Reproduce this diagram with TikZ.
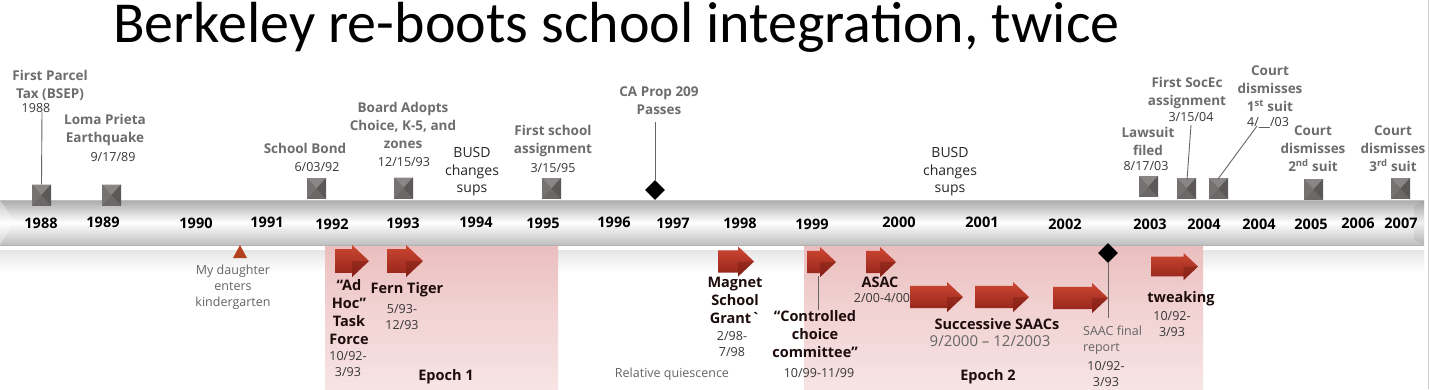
\documentclass[tikz,border=0pt]{standalone}
\usepackage{fontspec}
\setmainfont{Open Sans}
\newfontfamily\titlefont{Carlito}
\usetikzlibrary{shapes.geometric,calc}
\definecolor{lblgray}{RGB}{110,108,108}
\definecolor{dategray}{RGB}{55,55,55}
\definecolor{notegray}{RGB}{100,100,100}
\definecolor{darklbl}{RGB}{30,12,12}
\definecolor{mk}{RGB}{108,104,104}
\definecolor{mktop}{RGB}{138,134,134}
\definecolor{mkleft}{RGB}{118,114,114}
\definecolor{mkright}{RGB}{92,88,88}
\definecolor{arrtop}{RGB}{205,70,50}
\definecolor{arrbot}{RGB}{145,35,25}
\definecolor{arrdark}{RGB}{120,28,18}
\definecolor{pinkedge}{RGB}{214,150,150}
\definecolor{pinktop}{RGB}{230,178,178}
\definecolor{pinkmid}{RGB}{241,208,208}
\definecolor{pinkbot}{RGB}{253,245,245}
\definecolor{bartop}{RGB}{170,170,170}
\definecolor{barbot}{RGB}{190,190,190}
\definecolor{trired}{RGB}{180,64,30}
\pgfdeclareverticalshading{pinkshade}{100bp}{color(0bp)=(pinkbot); color(55bp)=(pinkmid); color(88bp)=(pinktop); color(100bp)=(pinkedge)}
\newcommand\redarrow[4]{% xleft, ycenter, length, height
  \shade[top color=arrtop, bottom color=arrbot]
    ({#1},{#2-0.37*#4}) -- ({#1+#3-0.53*#4},{#2-0.37*#4}) -- ({#1+#3-0.53*#4},{#2-0.5*#4})
    -- ({#1+#3},{#2}) -- ({#1+#3-0.53*#4},{#2+0.5*#4}) -- ({#1+#3-0.53*#4},{#2+0.37*#4})
    -- ({#1},{#2+0.37*#4}) -- cycle;
  \fill[arrdark, opacity=0.45] ({#1+#3-0.53*#4},{#2}) -- ({#1+#3},{#2}) -- ({#1+#3-0.53*#4},{#2+0.5*#4}) -- cycle;
}
\begin{document}
\begin{tikzpicture}[x=1pt,y=-1pt,
  lbl/.style={font=\fontsize{13.5}{18}\selectfont\bfseries, text=lblgray, align=center, inner sep=0},
  datetxt/.style={font=\fontsize{12.5}{16}\selectfont, text=dategray, align=center, inner sep=0},
  yr/.style={font=\fontsize{14.5}{17}\selectfont\bfseries, text=black, inner sep=0},
  reg/.style={font=\fontsize{14}{17.5}\selectfont, text=black!85, align=center, inner sep=0},
  blbl/.style={font=\fontsize{14.5}{18}\selectfont\bfseries, text=darklbl, align=center, inner sep=0},
  gnote/.style={font=\fontsize{12.5}{16}\selectfont, text=notegray, align=center, inner sep=0},
  marker/.style={minimum width=19pt, minimum height=21pt, inner sep=0, fill=mk,
    path picture={
      \fill[mktop] (path picture bounding box.north west) -- (path picture bounding box.north east) -- (path picture bounding box.center) -- cycle;
      \fill[mkright] (path picture bounding box.north east) -- (path picture bounding box.south east) -- (path picture bounding box.center) -- cycle;
      \fill[mkleft] (path picture bounding box.north west) -- (path picture bounding box.south west) -- (path picture bounding box.center) -- cycle;
    }},
  dia/.style={diamond, fill=black, minimum width=20pt, minimum height=20pt, inner sep=0},
  pole/.style={draw=gray!80!black, line width=0.9pt},
  region/.style={shading=pinkshade}
]
\useasboundingbox (0,0) rectangle (1429,389);
\fill[white] (0,0) rectangle (1429,389);

% shadow strip below bar
\shade[top color=black!10, bottom color=white] (0,250) rectangle (1424,272);

% epochs
\shade[region] (325,245) rectangle (558,389);
\shade[region] (804,245) rectangle (1203,389);

% bar
\shade[top color=bartop, bottom color=barbot, middle color=white] (0,200) rectangle (1424,245);
\fill[white, opacity=0.35] (0,200) -- (15,222) -- (0,245) -- cycle;
\fill[black, opacity=0.06] (1424,200) -- (1414,206) -- (1414,240) -- (1424,245) -- cycle;
\draw[black!30, line width=0.8pt] (0,245) -- (1424,245);
\draw[black!25, line width=0.6pt] (0,200.3) -- (1424,200.3);

% slide edge
\draw[black!20, line width=0.8pt] (1428,0) -- (1428,389);

% title
\node[anchor=base west, inner sep=0, font=\titlefont\fontsize{58}{64}\selectfont] (title) at (113,42) {Berkeley re-boots school integration, twice};

% year labels
\node[yr] (y1988) at (41,223) {1988};
\node[yr] (y1989) at (103,222) {1989};
\node[yr] (y1990) at (196,223) {1990};
\node[yr] (y1991) at (267,222) {1991};
\node[yr] (y1992) at (332,224) {1992};
\node[yr] (y1993) at (403,223) {1993};
\node[yr] (y1994) at (476,222) {1994};
\node[yr] (y1995) at (543,223) {1995};
\node[yr] (y1996) at (614,222) {1996};
\node[yr] (y1997) at (673,223) {1997};
\node[yr] (y1998) at (740,223) {1998};
\node[yr] (y1999) at (812,224) {1999};
\node[yr] (y2000) at (899,222) {2000};
\node[yr] (y2001) at (982,222) {2001};
\node[yr] (y2002) at (1065,224) {2002};
\node[yr] (y2003) at (1150,224) {2003};
\node[yr] (y2004a) at (1204,224) {2004};
\node[yr] (y2004b) at (1259,224) {2004};
\node[yr] (y2005) at (1311,224) {2005};
\node[yr] (y2006) at (1358,223) {2006};
\node[yr] (y2007) at (1401,223) {2007};

% markers
\node[marker] (m1988) at (41.5,195) {};
\node[marker] (m1989) at (111.5,195) {};
\node[marker] (mBond) at (316.5,188.5) {};
\node[marker] (mBoard) at (403.5,188) {};
\node[marker] (mSchool) at (551.5,188.5) {};
\node[marker] (mLaw) at (1148.5,186.5) {};
\node[marker] (mSocEc) at (1186.5,188.5) {};
\node[marker] (mSuit1) at (1218.5,188.5) {};
\node[marker] (mSuit2) at (1313.5,189.5) {};
\node[marker] (mSuit3) at (1400.5,188.5) {};
\node[dia] (dProp) at (655,190) {};

% upper labels
\node[lbl] (lParcel) at (50,85.5) {First Parcel\\Tax (BSEP)};
\node[datetxt] (d1988) at (36,108) {1988};
\node[lbl] (lLoma) at (105,130) {Loma Prieta\\Earthquake};
\node[datetxt] (d1989) at (113,157) {9/17/89};
\node[lbl] (lBond) at (305,148) {School Bond};
\node[datetxt] (dBond) at (317,167) {6/03/92};
\node[lbl] (lBoard) at (403,125) {Board Adopts\\Choice, K-5, and\\zones};
\node[datetxt] (dBoard) at (404,162) {12/15/93};
\node[reg] (lBusdA) at (472,172) {BUSD\\changes\\sups};
\node[lbl] (lSchool) at (553,141) {First school\\assignment};
\node[datetxt] (dSchool) at (553,168) {3/15/95};
\node[lbl] (lProp) at (659,101) {CA Prop 209\\Passes};
\node[reg] (lBusdB) at (950,172) {BUSD\\changes\\sups};
\node[lbl] (lLaw) at (1148,141) {Lawsuit\\filed};
\node[datetxt] (dLaw) at (1146,166) {8/17/03};
\node[lbl] (lSocEc) at (1187,93) {First SocEc\\assignment};
\node[datetxt] (dSocEc) at (1191,117) {3/15/04};
\node[lbl] (lSuit1) at (1270,89) {Court\\dismisses\\1\textsuperscript{st} suit};
\node[datetxt] (dSuit1) at (1268,123) {4/\_\_/03};
\node[lbl] (lSuit2) at (1313,149) {Court\\dismisses\\2\textsuperscript{nd} suit};
\node[lbl] (lSuit3) at (1393,149) {Court\\dismisses\\3\textsuperscript{rd} suit};

% poles
\coordinate (t1988) at (42,112);
\coordinate (tSocEc) at (1191,125);
\coordinate (tSuit1) at (1257,126);
\coordinate (tProp) at (655,122);
\draw[pole] (t1988) -- (m1988.north);
\draw[pole] (tSocEc) -- (1187,180);
\draw[pole] (tSuit1) -- (1218,179);
\draw[pole] (tProp) -- (dProp.north);

% lower section
\fill[trired] (233,258) -- (247,258) -- (240,245) -- cycle;
\node[gnote] (lDaughter) at (233,287) {My daughter\\enters\\kindergarten};

\redarrow{335}{261}{34}{32}
\redarrow{387}{261}{36}{32}
\redarrow{718}{261.5}{36}{30}
\redarrow{807}{262}{29}{30}
\redarrow{866}{262}{30}{30}
\redarrow{910}{297}{53}{30}
\redarrow{975}{297}{54}{30}
\redarrow{1053}{298}{55}{30}
\redarrow{1151}{266.5}{47}{27}

\node[blbl] (lAdHoc) at (349,312) {``Ad\\Hoc''\\Task\\Force};
\node[datetxt] (dAdHoc) at (348,364) {10/92-\\3/93};
\node[blbl] (lFern) at (407,290) {Fern Tiger};
\node[datetxt] (dFern) at (402,317.5) {5/93-\\12/93};
\node[blbl] (lEpoch1) at (446,377) {Epoch 1};
\node[blbl] (lMagnet) at (735,300) {Magnet\\School\\Grant\textasciigrave};
\node[datetxt] (dMagnet) at (732,344.5) {2/98-\\7/98};
\node[gnote] (lQuiet) at (672,374) {Relative quiescence};
\node[blbl] (lCtrl) at (815,334) {``Controlled\\choice\\committee''};
\node[datetxt] (dCtrl) at (819,373) {10/99-11/99};
\coordinate (aCtrl) at (818,276);
\draw[pole] (aCtrl) -- (lCtrl.north -| aCtrl);
\node[blbl] (lAsac) at (880,282) {ASAC};
\node[datetxt] (dAsac) at (882,298) {2/00-4/00};
\node[blbl] (lSucc) at (997,324) {Successive SAACs};
\node[gnote, font=\fontsize{15}{18}\selectfont] (dSucc) at (990,341) {9/2000 -- 12/2003};
\node[blbl] (lEpoch2) at (988,377) {Epoch 2};
\node[dia] (dSaac) at (1108,253) {};
\coordinate (bSaac) at (1108,318);
\draw[pole] (dSaac.south) -- (bSaac);
\node[gnote, align=left, anchor=west] (lSaac) at (1083,340) {SAAC final\\report};
\node[datetxt] (dSaac2) at (1106,374) {10/92-\\3/93};
\node[blbl] (lTweak) at (1181,299) {tweaking};
\node[datetxt] (dTweak) at (1172,324.5) {10/92-\\3/93};
\end{tikzpicture}
\end{document}
